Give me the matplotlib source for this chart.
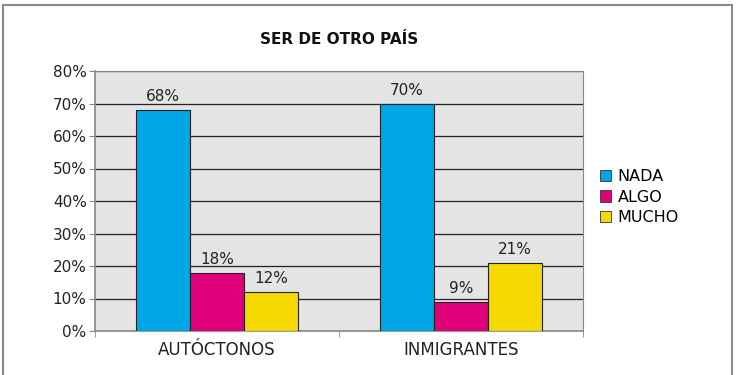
import matplotlib
matplotlib.use("Agg")
import matplotlib.pyplot as plt
from matplotlib.patches import Rectangle
import numpy as np

categories = ["AUTÓCTONOS", "INMIGRANTES"]
series_names = ["NADA", "ALGO", "MUCHO"]
nada = [68, 70]
algo = [18, 9]
mucho = [12, 21]
yticks = [0, 10, 20, 30, 40, 50, 60, 70, 80]
title = "SER DE OTRO PAÍS"

colors = ["#00a6e6", "#e0007a", "#f5d900"]
values = [nada, algo, mucho]

fig = plt.figure(figsize=(7.37, 3.75), dpi=100)
fig.patches.append(Rectangle((2.5/737, -0.02), 729/737, 1 - 5/375 + 0.02, transform=fig.transFigure,
                             fill=False, edgecolor="#8a8a8a", linewidth=1.5))
ax = fig.add_axes([95/737, 1-331/375, (583-95)/737, (331-71)/375])
ax.set_facecolor("#e4e4e4")

x = np.arange(len(categories))
w = 0.222
for i, (name, vals, c) in enumerate(zip(series_names, values, colors)):
    pos = x + (i - 1) * w
    ax.bar(pos, vals, w, color=c, edgecolor="#222222", linewidth=0.8, label=name, zorder=3)
    for p, v in zip(pos, vals):
        ax.text(p, v + 1.7, f"{v}%", ha="center", va="bottom", fontsize=11, color="#222222", zorder=4)

ax.set_xlim(-0.5, 1.5)
ax.set_ylim(0, 80)
ax.set_yticks(yticks)
ax.set_yticklabels([f"{t}%" for t in yticks], fontsize=11, color="#222222")
ax.yaxis.grid(True, color="#222222", linewidth=0.9, zorder=1)
ax.set_axisbelow(True)

ax.set_xticks(x)
ax.set_xticklabels(categories, fontsize=12, color="#222222")
ax.tick_params(axis="x", length=0, pad=7)
ax.set_xticks([-0.5, 0.5, 1.5], minor=True)
ax.tick_params(axis="x", which="minor", length=4, color="#888888")
ax.tick_params(axis="y", length=4, color="#888888", pad=2)

for s in ["left", "bottom"]:
    ax.spines[s].set_color("#888888")
    ax.spines[s].set_linewidth(1.2)
for s in ["right", "top"]:
    ax.spines[s].set_color("#888888")
    ax.spines[s].set_linewidth(0.8)

fig.text(339/737, 1-40/375, title, ha="center", va="center", fontsize=11, fontweight="bold", color="#111111")

leg = ax.legend(loc="center left", bbox_to_anchor=(1.005, 0.515), frameon=False, fontsize=11.5,
                handlelength=0.7, handleheight=0.7, handletextpad=0.4, labelspacing=0.35)
for h in leg.legend_handles:
    h.set_edgecolor("#333333")
    h.set_linewidth(0.6)

fig.savefig("out.png", dpi=100)
